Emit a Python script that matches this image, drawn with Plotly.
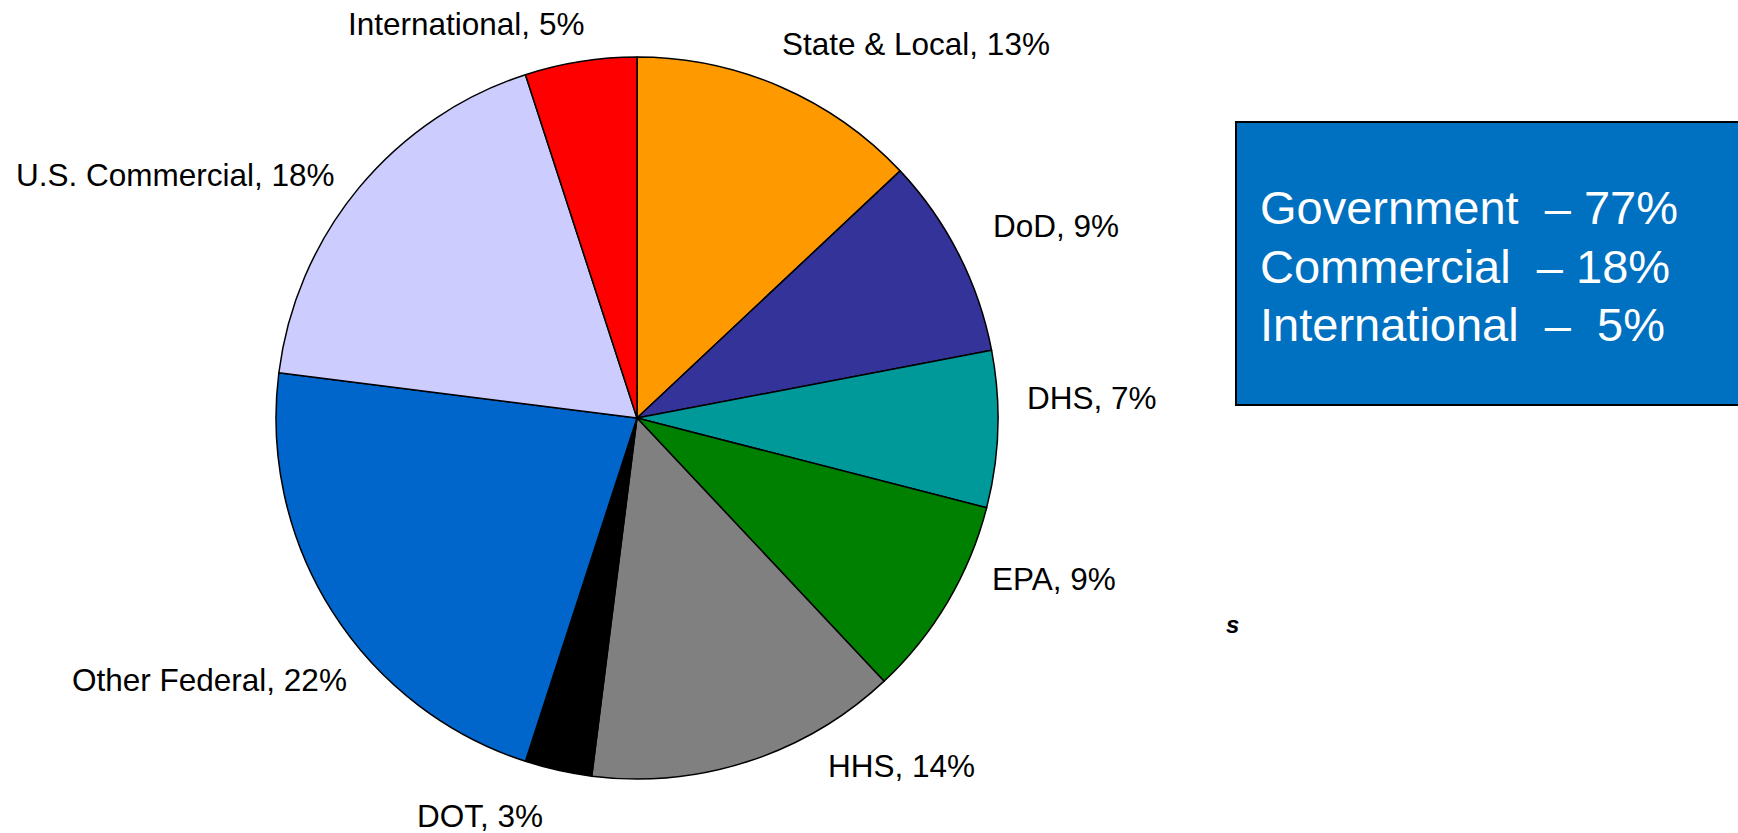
import math
import plotly.graph_objects as go

# ---- data ----
categories = ["State & Local", "DoD", "DHS", "EPA", "HHS", "DOT",
              "Other Federal", "U.S. Commercial", "International"]
shares = [13, 9, 7, 9, 14, 3, 22, 18, 5]
colors = ["#FF9900", "#333399", "#009999", "#008000", "#808080", "#000000",
          "#0066CC", "#CCCCFF", "#FF0000"]

summary_names = ["Government", "Commercial", "International"]
summary_values = ["77%", "18%", "5%"]

# ---- layout ----
W, H = 1738, 833
cx, cy, R = 637, 418, 361
# label nudges (px) from the slice's outer mid-point (layout only)
label_nudge = [(0, -43), (32, -28), (27, -31), (42, -23), (77, 5),
               (-13, 46), (17, 69), (-22, -13), (5, -37)]

fig = go.Figure()
fig.add_trace(go.Pie(
    labels=categories,
    values=shares,
    sort=False,
    direction="clockwise",
    rotation=0,
    marker=dict(colors=colors, line=dict(color="#000000", width=1.5)),
    textinfo="none",
    showlegend=False,
    hoverinfo="label+value",
    domain=dict(x=[(cx - R) / W, (cx + R) / W],
                y=[(H - cy - R) / H, (H - cy + R) / H]),
))

# outside labels, anchored at each slice's mid-angle
total = sum(shares)
cum = 0
for name, v, (nx, ny) in zip(categories, shares, label_nudge):
    mid = (cum + v / 2) / total * 2 * math.pi
    cum += v
    px = cx + R * math.sin(mid) + nx
    py = cy - R * math.cos(mid) + ny
    right_side = math.sin(mid) > 0
    fig.add_annotation(xref="paper", yref="paper", x=px / W, y=1 - py / H,
                       xanchor="left" if right_side else "right", yanchor="middle",
                       showarrow=False, text=f"{name}, {v}%",
                       font=dict(family="Liberation Sans, Arial, sans-serif", size=31.5,
                                 color="#000000"))

# summary box
fig.add_shape(type="rect", xref="paper", yref="paper",
              x0=1236 / W, x1=1.01, y0=1 - 405 / H, y1=1 - 122 / H,
              fillcolor="#0070C0", line=dict(color="#000000", width=2), layer="below")

dash_gap = ["\u00a0\u00a0\u2013 ", "\u00a0\u00a0\u2013 ", "\u00a0\u00a0\u2013 \u00a0"]
baselines = [225, 283, 341]
for name, val, gap, b in zip(summary_names, summary_values, dash_gap, baselines):
    fig.add_annotation(xref="paper", yref="paper", x=1258 / W, y=1 - (b - 17) / H,
                       xanchor="left", yanchor="middle", showarrow=False,
                       text=name + gap + val,
                       font=dict(family="Liberation Sans, Arial, sans-serif", size=47,
                                 color="#FFFFFF"))

fig.add_annotation(xref="paper", yref="paper", x=1232 / W, y=1 - 624 / H,
                   xanchor="center", yanchor="middle", showarrow=False,
                   text="<b><i>s</i></b>",
                   font=dict(family="Liberation Sans, Arial, sans-serif", size=24, color="#000000"))

fig.update_layout(width=W, height=H, margin=dict(l=0, r=0, t=0, b=0),
                  paper_bgcolor="#FFFFFF", plot_bgcolor="#FFFFFF")

fig.write_html("out.html", config={"displayModeBar": False},
               post_script="document.body.style.margin='0';")
